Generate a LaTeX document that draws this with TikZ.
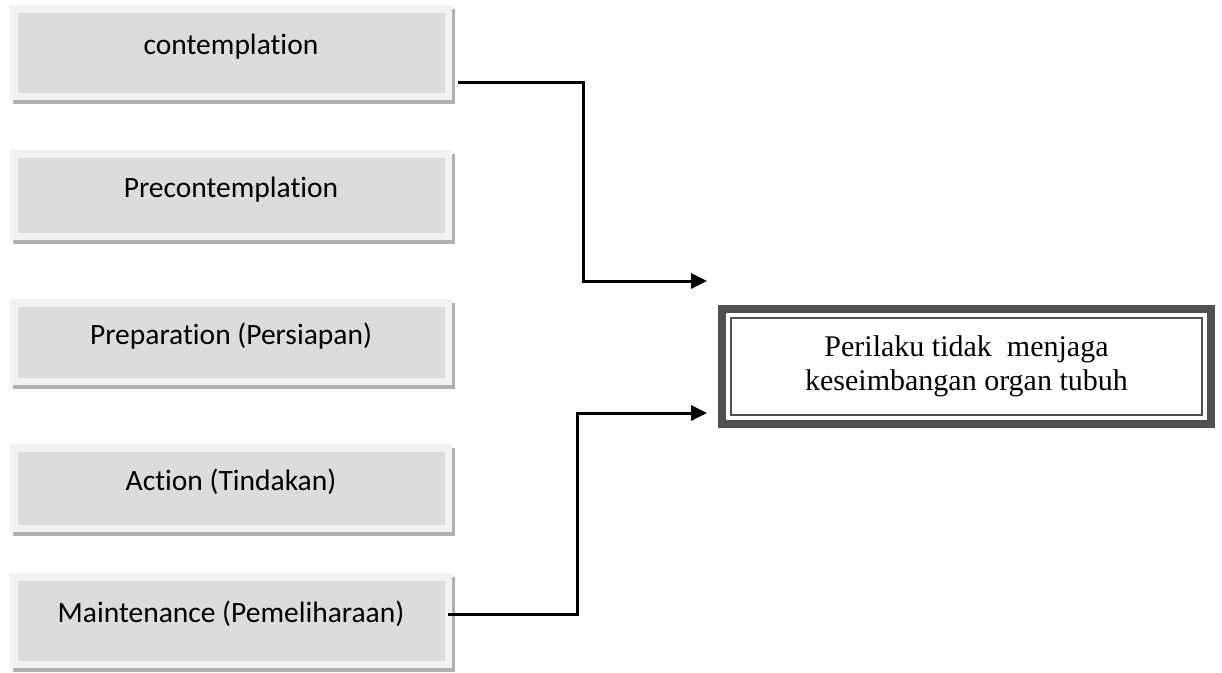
\documentclass[tikz,border=0pt]{standalone}
\usepackage{fontspec}
\setmainfont{Liberation Serif}
\newfontfamily\calibri[Ligatures=NoCommon]{Carlito}
\usepackage{xcolor}
\usepackage{tikz}
\usetikzlibrary{arrows.meta, shadows}

\definecolor{framegray}{HTML}{F2F2F2}
\definecolor{boxgray}{HTML}{DCDCDC}
\definecolor{shadegray}{HTML}{B0B0B0}
\definecolor{bordergray}{HTML}{505050}

\begin{document}
\begin{tikzpicture}[
          x=1pt, y=-1pt,
          stage/.style={draw=framegray, fill=boxgray, line width=7.5pt,
                        minimum width=434.5pt, text height=11pt, text depth=7pt,
                        font=\calibri\fontsize{29.5}{33}\selectfont,
                        drop shadow={shadow xshift=3pt, shadow yshift=-4pt,
                                     fill=shadegray, draw=shadegray, opacity=1}},
          goalbox/.style={draw=bordergray, line width=8pt, outer sep=0pt,
                          minimum width=489pt, minimum height=115pt,
                          align=center, font=\fontsize{30}{33.5}\selectfont},
          arr/.style={-{Triangle[length=16pt, width=15pt]}, line width=3pt}
        ]
          \useasboundingbox (0,0) rectangle (1222,672);
          % stages of change
          \node[stage, minimum height=87.5pt] (contemp) at (231,52.5) {contemplation};
          \node[stage, minimum height=82.5pt] (precontemp) at (231,195) {Precontemplation};
          \node[stage, minimum height=78.5pt] (prep) at (231,342) {Preparation (Persiapan)};
          \node[stage, minimum height=80.5pt] (action) at (231,488) {Action (Tindakan)};
          \node[stage, minimum height=87.5pt] (maint) at (231,620.5) {Maintenance (Pemeliharaan)};
          % target behaviour
          \node[goalbox] (goal) at (966.5,366.5) {Perilaku tidak\ \ menjaga\\keseimbangan organ tubuh};
          \draw[bordergray, line width=1.5pt]
            ([shift={(9pt,-9pt)}]goal.north west) rectangle ([shift={(-9pt,9pt)}]goal.south east);
          % connectors
          \coordinate (tipA) at (707,281);
          \coordinate (tipB) at (707,413);
          \draw[arr] ([shift={(6pt,-29.5pt)}]contemp.east) -- ++(125,0) |- (tipA);
          \draw[arr] ([shift={(-4pt,6.5pt)}]maint.east) -- ++(129,0) |- (tipB);
        \end{tikzpicture}
\end{document}
